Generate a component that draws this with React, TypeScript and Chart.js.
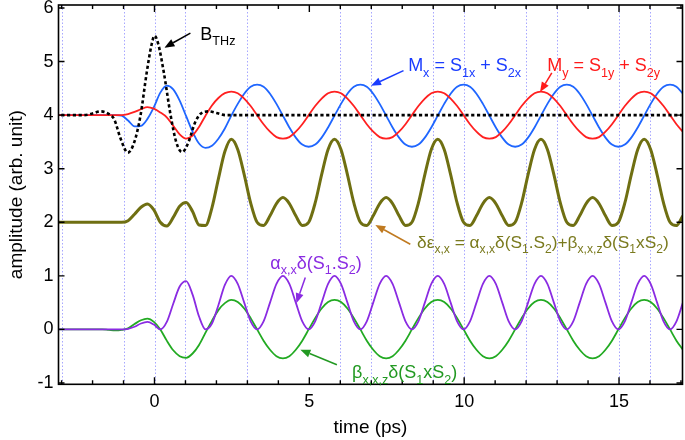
import React, { useEffect, useRef } from "react";
import { Chart, registerables } from "chart.js";

Chart.register(...registerables);

const FONT = "'Liberation Sans', Arial, Helvetica, sans-serif";

// time axis (ps) shared by the oscillating curves
const timeGrid = [
  -3.2,
  -1.687, -1.478, -1.270, -1.062, -0.853, -0.645, -0.437, -0.228, -0.020, 0.188,
  0.397, 0.605, 0.813, 1.022, 1.230, 1.438, 1.647, 1.855, 2.063, 2.272,
  2.480, 2.688, 2.897, 3.105, 3.313, 3.522, 3.730, 3.938, 4.147, 4.355,
  4.563, 4.772, 4.980, 5.188, 5.397, 5.605, 5.813, 6.022, 6.230, 6.438,
  6.647, 6.855, 7.063, 7.272, 7.480, 7.688, 7.897, 8.105, 8.313, 8.522,
  8.730, 8.938, 9.147, 9.355, 9.563, 9.772, 9.980, 10.188, 10.397, 10.605,
  10.813, 11.022, 11.230, 11.438, 11.647, 11.855, 12.063, 12.272, 12.480, 12.688,
  12.897, 13.105, 13.313, 13.522, 13.730, 13.938, 14.147, 14.355, 14.563, 14.772,
  14.980, 15.188, 15.397, 15.605, 15.813, 16.022, 16.230, 16.438, 16.647, 16.855,
  17.063,
];

// Mx = S1x + S2x (blue)
const mxValues = [
  4.00,
  4.00, 4.00, 4.00, 3.99, 3.90, 3.79, 3.80, 3.93, 4.15, 4.42,
  4.55, 4.48, 4.27, 3.98, 3.69, 3.47, 3.39, 3.43, 3.56, 3.75,
  3.99, 4.21, 4.40, 4.53, 4.57, 4.53, 4.40, 4.21, 3.99, 3.77,
  3.58, 3.45, 3.41, 3.45, 3.58, 3.77, 3.99, 4.21, 4.40, 4.53,
  4.57, 4.53, 4.40, 4.21, 3.99, 3.77, 3.58, 3.45, 3.41, 3.45,
  3.58, 3.77, 3.99, 4.21, 4.40, 4.53, 4.57, 4.53, 4.40, 4.21,
  3.99, 3.77, 3.58, 3.45, 3.41, 3.45, 3.58, 3.77, 3.99, 4.21,
  4.40, 4.53, 4.57, 4.53, 4.40, 4.21, 3.99, 3.77, 3.58, 3.45,
  3.41, 3.45, 3.58, 3.77, 3.99, 4.21, 4.40, 4.53, 4.57, 4.53,
  4.40,
];

// My = S1y + S2y (red)
const myValues = [
  4.00,
  4.00, 4.00, 4.00, 4.00, 4.02, 4.06, 4.11, 4.15, 4.12, 4.05,
  3.96, 3.80, 3.64, 3.56, 3.62, 3.78, 3.99, 4.18, 4.32, 4.41,
  4.44, 4.41, 4.31, 4.17, 4.00, 3.83, 3.69, 3.59, 3.56, 3.59,
  3.69, 3.83, 4.00, 4.17, 4.31, 4.41, 4.44, 4.41, 4.31, 4.17,
  4.00, 3.83, 3.69, 3.59, 3.56, 3.59, 3.69, 3.83, 4.00, 4.17,
  4.31, 4.41, 4.44, 4.41, 4.31, 4.17, 4.00, 3.83, 3.69, 3.59,
  3.56, 3.59, 3.69, 3.83, 4.00, 4.17, 4.31, 4.41, 4.44, 4.41,
  4.31, 4.17, 4.00, 3.83, 3.69, 3.59, 3.56, 3.59, 3.69, 3.83,
  4.00, 4.17, 4.31, 4.41, 4.44, 4.41, 4.31, 4.17, 4.00, 3.83,
  3.69,
];

// δε_x,x (olive, offset by 2)
const deltaEpsValues = [
  2.00,
  2.00, 2.00, 2.00, 2.00, 2.03, 2.15, 2.28, 2.34, 2.23, 2.00,
  1.93, 2.09, 2.30, 2.37, 2.20, 1.95, 1.94, 2.27, 2.81, 3.32,
  3.55, 3.36, 2.89, 2.36, 2.00, 1.94, 2.12, 2.35, 2.46, 2.35,
  2.12, 1.94, 2.00, 2.36, 2.89, 3.36, 3.55, 3.36, 2.89, 2.36,
  2.00, 1.94, 2.12, 2.35, 2.46, 2.35, 2.12, 1.94, 2.00, 2.36,
  2.89, 3.36, 3.55, 3.36, 2.89, 2.36, 2.00, 1.94, 2.12, 2.35,
  2.46, 2.35, 2.12, 1.94, 2.00, 2.36, 2.89, 3.36, 3.55, 3.36,
  2.89, 2.36, 2.00, 1.94, 2.12, 2.35, 2.46, 2.35, 2.12, 1.94,
  2.00, 2.36, 2.89, 3.36, 3.55, 3.36, 2.89, 2.36, 2.00, 1.94,
  2.12,
];

// α_x,x δ(S1.S2) (purple)
const alphaValues = [
  0.00,
  0.00, 0.00, 0.00, 0.00, 0.01, 0.05, 0.11, 0.14, 0.09, 0.00,
  0.14, 0.48, 0.80, 0.90, 0.65, 0.24, 0.00, 0.11, 0.45, 0.83,
  1.00, 0.85, 0.50, 0.15, 0.00, 0.15, 0.50, 0.85, 1.00, 0.85,
  0.50, 0.15, 0.00, 0.15, 0.50, 0.85, 1.00, 0.85, 0.50, 0.15,
  0.00, 0.15, 0.50, 0.85, 1.00, 0.85, 0.50, 0.15, 0.00, 0.15,
  0.50, 0.85, 1.00, 0.85, 0.50, 0.15, 0.00, 0.15, 0.50, 0.85,
  1.00, 0.85, 0.50, 0.15, 0.00, 0.15, 0.50, 0.85, 1.00, 0.85,
  0.50, 0.15, 0.00, 0.15, 0.50, 0.85, 1.00, 0.85, 0.50, 0.15,
  0.00, 0.15, 0.50, 0.85, 1.00, 0.85, 0.50, 0.15, 0.00, 0.15,
  0.50,
];

// β_x,x,z δ(S1xS2) (green)
const betaValues = [
  0.00,
  0.00, -0.01, -0.02, -0.01, 0.02, 0.10, 0.17, 0.20, 0.14, 0.00,
  -0.21, -0.39, -0.50, -0.53, -0.45, -0.29, -0.06, 0.16, 0.36, 0.49,
  0.55, 0.51, 0.39, 0.21, 0.00, -0.21, -0.38, -0.50, -0.54, -0.50,
  -0.38, -0.21, 0.00, 0.21, 0.39, 0.51, 0.55, 0.51, 0.39, 0.21,
  0.00, -0.21, -0.38, -0.50, -0.54, -0.50, -0.38, -0.21, 0.00, 0.21,
  0.39, 0.51, 0.55, 0.51, 0.39, 0.21, 0.00, -0.21, -0.38, -0.50,
  -0.54, -0.50, -0.38, -0.21, 0.00, 0.21, 0.39, 0.51, 0.55, 0.51,
  0.39, 0.21, 0.00, -0.21, -0.38, -0.50, -0.54, -0.50, -0.38, -0.21,
  0.00, 0.21, 0.39, 0.51, 0.55, 0.51, 0.39, 0.21, 0.00, -0.21,
  -0.38,
];

// B_THz pulse (black dotted)
const pulseTimes = [-3.2, -2.3, -2.0, -1.74, -1.5, -1.3, -1.1, -0.86, -0.65, -0.45, -0.25, -0.1, 0.0, 0.12, 0.3, 0.52, 0.7, 0.89, 1.1, 1.3, 1.48, 1.75, 2.0, 2.3, 3.0, 17.1];
const pulseValues = [4.00, 4.00, 4.03, 4.07, 4.03, 3.92, 3.57, 3.30, 3.50, 4.00, 4.80, 5.30, 5.48, 5.33, 4.80, 4.00, 3.50, 3.31, 3.50, 3.85, 4.02, 4.07, 4.04, 4.00, 4.00, 4.00];

const markerTimes = [-3, -1, 0, 1, 3, 6, 7, 9, 10, 12, 13, 15, 16];
const xTickLabels = [0, 5, 10, 15];
const xTickMarks = [-3, -2, -1, 0, 1, 2, 3, 4, 5, 6, 7, 8, 9, 10, 11, 12, 13, 14, 15, 16, 17];
const yTickLabels = [-1, 0, 1, 2, 3, 4, 5, 6];

type Part = [string, boolean];
const notes: { at: [number, number]; color: string; size: number; parts: Part[]; from: [number, number]; to: [number, number]; arrow: string }[] = [
  { at: [1.48, 5.41], color: "#000000", size: 18, parts: [["B", false], ["THz", true]], from: [1.16, 5.53], to: [0.32, 5.26], arrow: "#000000" },
  { at: [8.19, 4.82], color: "#1a3cff", size: 18, parts: [["M", false], ["x", true], [" = S", false], ["1x", true], [" + S", false], ["2x", true]], from: [8.04, 4.83], to: [6.99, 4.55], arrow: "#1a3cff" },
  { at: [12.68, 4.82], color: "#ff1a1a", size: 18, parts: [["M", false], ["y", true], [" = S", false], ["1y", true], [" + S", false], ["2y", true]], from: [12.83, 4.79], to: [12.45, 4.43], arrow: "#ff1a1a" },
  { at: [8.48, 1.52], color: "#7a7a1e", size: 17.3, parts: [["δε", false], ["x,x", true], [" = α", false], ["x,x", true], ["δ(S", false], ["1", true], [".S", false], ["2", true], [")+β", false], ["x,x,z", true], ["δ(S", false], ["1", true], ["xS", false], ["2", true], [")", false]], from: [8.26, 1.59], to: [7.13, 1.95], arrow: "#c07a20" },
  { at: [3.74, 1.13], color: "#8a2be2", size: 18, parts: [["α", false], ["x,x", true], ["δ(S", false], ["1", true], [".S", false], ["2", true], [")", false]], from: [4.87, 0.97], to: [4.58, 0.49], arrow: "#8a2be2" },
  { at: [6.38, -0.91], color: "#229922", size: 18, parts: [["β", false], ["x,x,z", true], ["δ(S", false], ["1", true], ["xS", false], ["2", true], [")", false]], from: [5.89, -0.66], to: [4.71, -0.38], arrow: "#229922" },
];

const toPoints = (xs: number[], ys: number[]) => xs.map((x, i) => ({ x, y: ys[i] }));

function drawRich(ctx: CanvasRenderingContext2D, x: number, y: number, parts: Part[], color: string, size: number) {
  let cx = x;
  ctx.fillStyle = color;
  ctx.textBaseline = "alphabetic";
  ctx.textAlign = "left";
  for (const [text, sub] of parts) {
    const fs = sub ? size * 0.7 : size;
    ctx.font = `${fs}px ${FONT}`;
    ctx.fillText(text, cx, sub ? y + size * 0.3 : y);
    cx += ctx.measureText(text).width;
  }
}

function drawArrow(ctx: CanvasRenderingContext2D, x1: number, y1: number, x2: number, y2: number, color: string) {
  const ang = Math.atan2(y2 - y1, x2 - x1);
  const head = 10;
  const hw = 4;
  const bx = x2 - Math.cos(ang) * head;
  const by = y2 - Math.sin(ang) * head;
  ctx.strokeStyle = color;
  ctx.fillStyle = color;
  ctx.lineWidth = 1.5;
  ctx.setLineDash([]);
  ctx.beginPath();
  ctx.moveTo(x1, y1);
  ctx.lineTo(bx, by);
  ctx.stroke();
  ctx.beginPath();
  ctx.moveTo(x2, y2);
  ctx.lineTo(bx - Math.sin(ang) * hw, by + Math.cos(ang) * hw);
  ctx.lineTo(bx + Math.sin(ang) * hw, by - Math.cos(ang) * hw);
  ctx.closePath();
  ctx.fill();
}

const decorPlugin = {
  id: "decor",
  beforeDatasetsDraw(chart: any) {
    const { ctx, chartArea: a, scales } = chart;
    const xs = scales.x;
    ctx.save();
    ctx.strokeStyle = "rgba(120,120,255,0.65)";
    ctx.lineWidth = 1;
    ctx.setLineDash([1.5, 2]);
    for (const t of markerTimes) {
      const px = Math.round(xs.getPixelForValue(t)) + 0.5;
      ctx.beginPath();
      ctx.moveTo(px, a.top);
      ctx.lineTo(px, a.bottom);
      ctx.stroke();
    }
    ctx.restore();
  },
  afterDatasetsDraw(chart: any) {
    const { ctx, chartArea: a, scales } = chart;
    const xs = scales.x;
    const ys = scales.y;
    ctx.save();
    ctx.strokeStyle = "#000";
    ctx.lineWidth = 1.6;
    ctx.setLineDash([]);
    ctx.strokeRect(a.left, a.top, a.right - a.left, a.bottom - a.top);
    ctx.lineWidth = 1.4;
    ctx.beginPath();
    for (const t of xTickMarks) {
      const px = xs.getPixelForValue(t);
      const len = xTickLabels.includes(t) ? 7 : 4;
      ctx.moveTo(px, a.bottom);
      ctx.lineTo(px, a.bottom - len);
      ctx.moveTo(px, a.top);
      ctx.lineTo(px, a.top + len);
    }
    for (const v of yTickLabels) {
      const py = ys.getPixelForValue(v);
      ctx.moveTo(a.left, py);
      ctx.lineTo(a.left + 6, py);
      ctx.moveTo(a.right, py);
      ctx.lineTo(a.right - 6, py);
    }
    ctx.stroke();

    for (const n of notes) {
      drawArrow(ctx, xs.getPixelForValue(n.from[0]), ys.getPixelForValue(n.from[1]), xs.getPixelForValue(n.to[0]), ys.getPixelForValue(n.to[1]), n.arrow);
      drawRich(ctx, xs.getPixelForValue(n.at[0]), ys.getPixelForValue(n.at[1]), n.parts, n.color, n.size);
    }
    ctx.restore();
  },
};

export default function App() {
  const ref = useRef<HTMLCanvasElement | null>(null);
  useEffect(() => {
    document.body.style.margin = "0";
    const canvas = ref.current;
    if (!canvas) return;
    const common = { pointRadius: 0, pointHoverRadius: 0, fill: false, cubicInterpolationMode: "monotone" as const };
    const chart = new Chart(canvas, {
      type: "line",
      data: {
        datasets: [
          { ...common, label: "B_THz", data: toPoints(pulseTimes, pulseValues), borderColor: "#000000", borderWidth: 2.6, borderDash: [3.2, 2.6] },
          { ...common, label: "My", data: toPoints(timeGrid, myValues), borderColor: "#ff2020", borderWidth: 1.8 },
          { ...common, label: "Mx", data: toPoints(timeGrid, mxValues), borderColor: "#1f66ff", borderWidth: 1.8 },
          { ...common, label: "deps", data: toPoints(timeGrid, deltaEpsValues), borderColor: "#6f6f12", borderWidth: 3 },
          { ...common, label: "alpha", data: toPoints(timeGrid, alphaValues), borderColor: "#8a2be2", borderWidth: 1.8 },
          { ...common, label: "beta", data: toPoints(timeGrid, betaValues), borderColor: "#22aa22", borderWidth: 1.8 },
        ],
      },
      options: {
        animation: false,
        responsive: false,
        devicePixelRatio: 1,
        layout: { padding: { left: 0, right: 2.5, top: 5, bottom: 0 } },
        plugins: { legend: { display: false }, tooltip: { enabled: false } },
        scales: {
          x: {
            type: "linear",
            min: -3.1,
            max: 17.05,
            afterBuildTicks: (s: any) => {
              s.ticks = xTickLabels.map((v) => ({ value: v }));
            },
            afterFit: (s: any) => {
              s.height = 55.7;
              s.paddingLeft = 0;
              s.paddingRight = 0;
            },
            grid: { display: false, drawTicks: false },
            border: { display: false },
            ticks: { font: { family: FONT, size: 18 }, color: "#000", padding: 7, maxRotation: 0, autoSkip: false, callback: (v: any) => String(v) },
            title: { display: true, text: "time (ps)", font: { family: FONT, size: 19 }, color: "#000", padding: { top: 0, bottom: 1 } },
          },
          y: {
            type: "linear",
            min: -1.025,
            max: 6.056,
            afterBuildTicks: (s: any) => {
              s.ticks = yTickLabels.map((v) => ({ value: v }));
            },
            afterFit: (s: any) => {
              s.width = 58.5;
              s.paddingTop = 0;
              s.paddingBottom = 0;
            },
            grid: { display: false, drawTicks: false },
            border: { display: false },
            ticks: { font: { family: FONT, size: 18 }, color: "#000", padding: 5, autoSkip: false, callback: (v: any) => String(v) },
            title: { display: true, text: "amplitude (arb. unit)", font: { family: FONT, size: 19 }, color: "#000", padding: { top: 5.5, bottom: 0 } },
          },
        },
      },
      plugins: [decorPlugin],
    });
    return () => chart.destroy();
  }, []);
  return (
    <div style={{ position: "fixed", left: 0, top: 0, width: 685, height: 440, background: "#fff" }}>
      <canvas ref={ref} width={685} height={440} style={{ display: "block", width: 685, height: 440 }} />
    </div>
  );
}
